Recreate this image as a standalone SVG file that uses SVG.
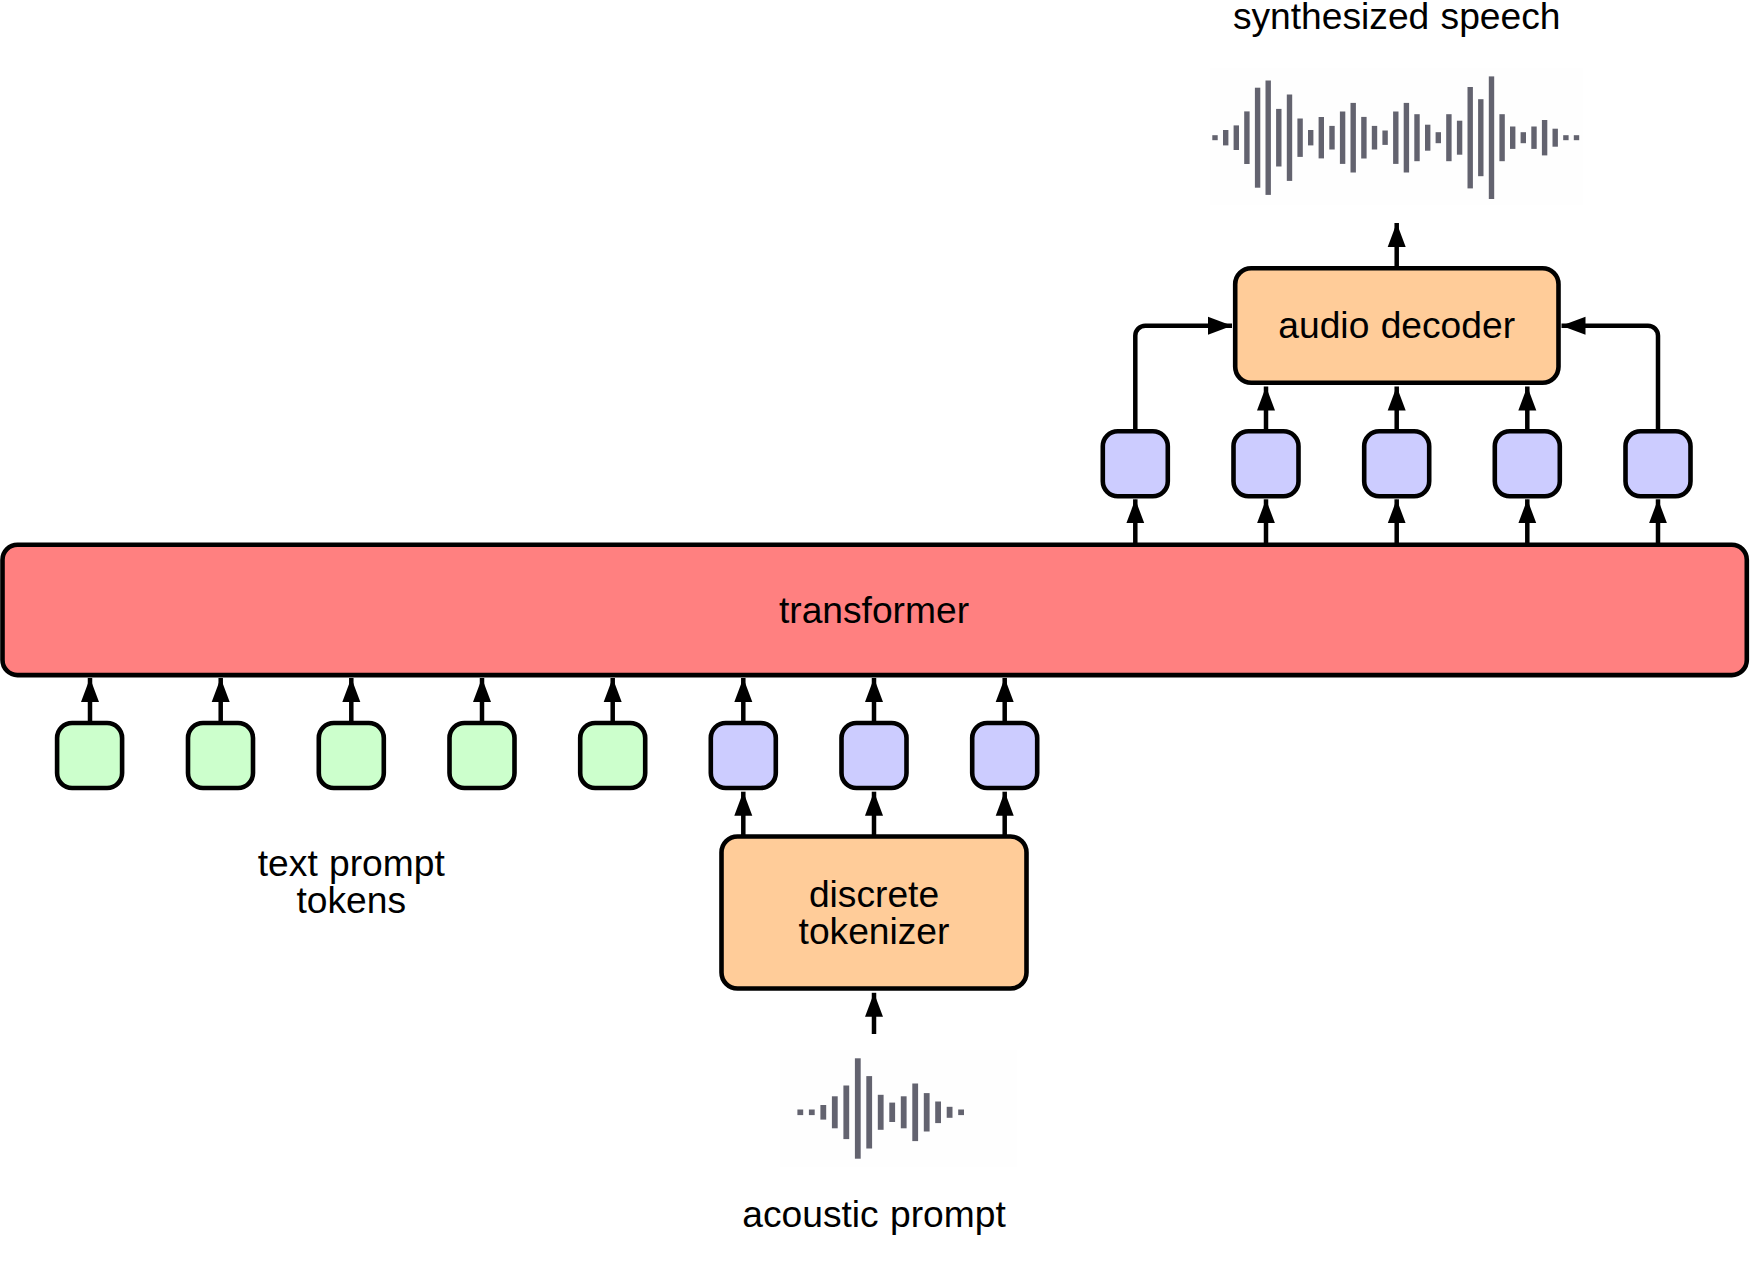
<svg xmlns="http://www.w3.org/2000/svg" width="1756" height="1261" viewBox="0 0 1756 1261">
<style>
text{font-family:"Liberation Sans",Arial,sans-serif;font-size:37.2px;word-spacing:1px;fill:#000;text-anchor:middle}
.box{stroke:#000;stroke-width:4.6}
.g{fill:#ccffcc}.b{fill:#ccccff}.o{fill:#ffcc99}.r{fill:#ff8080}
.c{fill:none;stroke:#000;stroke-width:4.5}
.bar{fill:#63636f}
.bg{fill:#fefefe}
</style>
<defs><marker id="a" markerUnits="userSpaceOnUse" markerWidth="24" markerHeight="20" refX="24" refY="10" orient="auto"><path d="M0,1 L24,10 L0,19 Z" fill="#000"/></marker>
<g id="s"><rect x="-32.5" y="-32.5" width="65" height="65" rx="15"/></g></defs>
<rect width="1756" height="1261" fill="#fff"/>
<g id="connectors">
<path class="c" marker-end="url(#a)" d="M90 723V678"/><path class="c" marker-end="url(#a)" d="M220.7 723V678"/><path class="c" marker-end="url(#a)" d="M351.3 723V678"/><path class="c" marker-end="url(#a)" d="M482 723V678"/><path class="c" marker-end="url(#a)" d="M612.7 723V678"/><path class="c" marker-end="url(#a)" d="M743.3 723V678"/><path class="c" marker-end="url(#a)" d="M874 723V678"/><path class="c" marker-end="url(#a)" d="M1004.7 723V678"/>
<path class="c" marker-end="url(#a)" d="M743.3 836V791.7"/><path class="c" marker-end="url(#a)" d="M874 836V791.7"/><path class="c" marker-end="url(#a)" d="M1004.7 836V791.7"/>
<path class="c" marker-end="url(#a)" d="M874 1034V992.8"/>
<path class="c" marker-end="url(#a)" d="M1135.3 544V499.3"/><path class="c" marker-end="url(#a)" d="M1266 544V499.3"/><path class="c" marker-end="url(#a)" d="M1396.7 544V499.3"/><path class="c" marker-end="url(#a)" d="M1527.3 544V499.3"/><path class="c" marker-end="url(#a)" d="M1658 544V499.3"/>
<path class="c" marker-end="url(#a)" d="M1266 431V386.5"/><path class="c" marker-end="url(#a)" d="M1396.7 431V386.5"/><path class="c" marker-end="url(#a)" d="M1527.3 431V386.5"/>
<path class="c" marker-end="url(#a)" d="M1135.3 431V335.7a10 10 0 0 1 10-10H1232"/>
<path class="c" marker-end="url(#a)" d="M1658 431V335.7a10 10 0 0 0-10-10H1561.5"/>
<path class="c" marker-end="url(#a)" d="M1396.7 268V223"/>
</g>
<g id="transformer"><rect class="box r" x="2.5" y="544.7" width="1744.3" height="130.4" rx="15"/><text x="874" y="622.5">transformer</text></g>
<g id="audio-decoder"><rect class="box o" x="1235.2" y="268.2" width="323.3" height="114.6" rx="16"/><text x="1396.7" y="338.3">audio decoder</text></g>
<g id="discrete-tokenizer"><rect class="box o" x="721.5" y="836.5" width="305" height="152" rx="16"/><text x="874" y="906.7">discrete</text><text x="874" y="943.5">tokenizer</text></g>
<g id="tok-g1" class="box g"><use href="#s" x="89.6" y="755.5"/></g>
<g id="tok-g2" class="box g"><use href="#s" x="220.5" y="755.5"/></g>
<g id="tok-g3" class="box g"><use href="#s" x="351.3" y="755.5"/></g>
<g id="tok-g4" class="box g"><use href="#s" x="482" y="755.5"/></g>
<g id="tok-g5" class="box g"><use href="#s" x="612.7" y="755.5"/></g>
<g id="tok-b1" class="box b"><use href="#s" x="743.3" y="755.5"/></g>
<g id="tok-b2" class="box b"><use href="#s" x="874" y="755.5"/></g>
<g id="tok-b3" class="box b"><use href="#s" x="1004.7" y="755.5"/></g>
<g id="out-1" class="box b"><use href="#s" x="1135.3" y="463.7"/></g>
<g id="out-2" class="box b"><use href="#s" x="1266" y="463.7"/></g>
<g id="out-3" class="box b"><use href="#s" x="1396.7" y="463.7"/></g>
<g id="out-4" class="box b"><use href="#s" x="1527.3" y="463.7"/></g>
<g id="out-5" class="box b"><use href="#s" x="1658" y="463.7"/></g>
<g id="label-text-prompt"><text x="351.3" y="875.5">text prompt</text><text x="351.3" y="912.5">tokens</text></g>
<g id="label-acoustic"><text x="874" y="1226.7">acoustic prompt</text></g>
<g id="label-synth"><text x="1396.7" y="28.5">synthesized speech</text></g>
<g id="wave-synth">
<rect class="bg" x="1210" y="68" width="373" height="137"/>
<g class="bar">
<rect x="1212.3" y="135.2" width="5.4" height="5"/><rect x="1223" y="130" width="5.4" height="15.4"/><rect x="1233.6" y="125.4" width="5.4" height="24.6"/><rect x="1244.2" y="111.4" width="5.4" height="52.6"/><rect x="1254.9" y="87.7" width="5.4" height="100"/><rect x="1265.5" y="80.5" width="5.4" height="114.4"/><rect x="1276.1" y="108.9" width="5.4" height="57.6"/><rect x="1286.8" y="94.5" width="5.4" height="86.4"/><rect x="1297.4" y="118.5" width="5.4" height="38.4"/><rect x="1308" y="130" width="5.4" height="15.4"/><rect x="1318.6" y="117" width="5.4" height="41.4"/><rect x="1329.3" y="125.9" width="5.4" height="23.6"/><rect x="1339.9" y="111.5" width="5.4" height="52.4"/><rect x="1350.5" y="102.9" width="5.4" height="69.6"/><rect x="1361.2" y="116.9" width="5.4" height="41.6"/><rect x="1371.8" y="125.9" width="5.4" height="23.6"/><rect x="1382.4" y="130.5" width="5.4" height="14.4"/><rect x="1393.1" y="111.5" width="5.4" height="52.4"/><rect x="1403.7" y="102.9" width="5.4" height="69.6"/><rect x="1414.3" y="114.2" width="5.4" height="47"/><rect x="1425" y="124.7" width="5.4" height="26"/><rect x="1435.6" y="132.2" width="5.4" height="11"/><rect x="1446.2" y="114.2" width="5.4" height="47"/><rect x="1456.9" y="120.7" width="5.4" height="34"/><rect x="1467.5" y="87" width="5.4" height="101.4"/><rect x="1478.1" y="99.2" width="5.4" height="77"/><rect x="1488.8" y="76.4" width="5.4" height="122.6"/><rect x="1499.4" y="114.2" width="5.4" height="47"/><rect x="1510" y="126.5" width="5.4" height="22.4"/><rect x="1520.6" y="132.2" width="5.4" height="11"/><rect x="1531.3" y="126.5" width="5.4" height="22.4"/><rect x="1541.9" y="120" width="5.4" height="35.4"/><rect x="1552.5" y="128.7" width="5.4" height="18"/><rect x="1563.2" y="135.2" width="5.4" height="5"/><rect x="1573.8" y="135.2" width="5.4" height="5"/>
</g></g>
<g id="wave-acoustic">
<rect class="bg" x="780" y="1050" width="237" height="117"/>
<g class="bar">
<rect x="797.4" y="1109.5" width="5.8" height="5.6"/><rect x="808.9" y="1109.5" width="5.8" height="5.6"/><rect x="820.4" y="1105" width="5.8" height="14.6"/><rect x="831.9" y="1096.3" width="5.8" height="32"/><rect x="843.4" y="1085.5" width="5.8" height="53.6"/><rect x="854.9" y="1058.3" width="5.8" height="100.4"/><rect x="866.3" y="1076.1" width="5.8" height="72.4"/><rect x="877.8" y="1094.8" width="5.8" height="35"/><rect x="889.3" y="1102.6" width="5.8" height="19.4"/><rect x="900.8" y="1096.3" width="5.8" height="32"/><rect x="912.3" y="1083.5" width="5.8" height="57.6"/><rect x="923.8" y="1093.1" width="5.8" height="38.4"/><rect x="935.2" y="1101.5" width="5.8" height="21.6"/><rect x="946.7" y="1106.8" width="5.8" height="11"/><rect x="958.2" y="1109.5" width="5.8" height="5.6"/>
</g></g>
</svg>
